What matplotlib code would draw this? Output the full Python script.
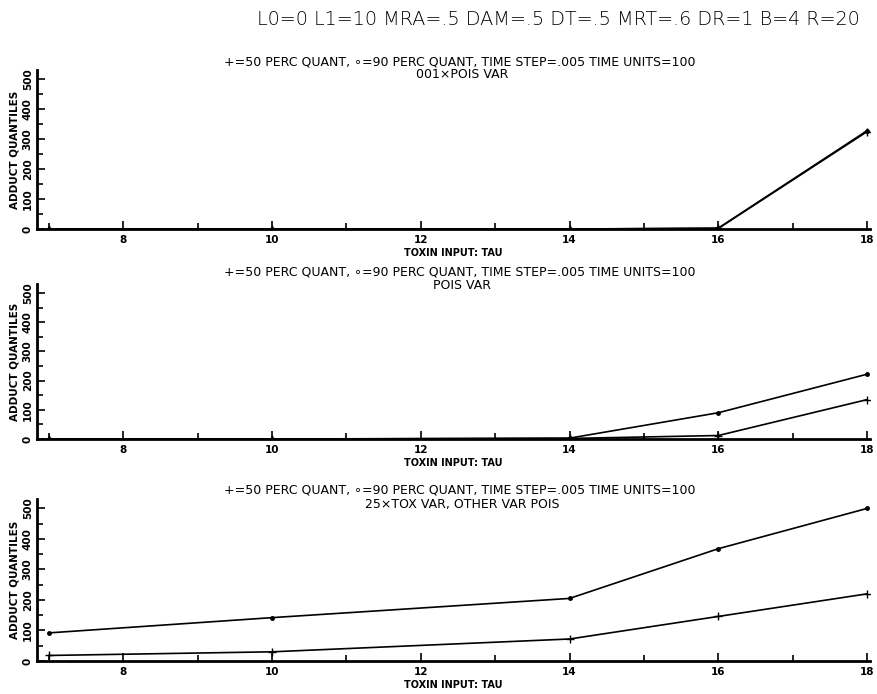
import numpy as np
import matplotlib
matplotlib.use("Agg")
import matplotlib.pyplot as plt
from matplotlib.ticker import MultipleLocator

# toxin input values (tau)
tau = [7, 10, 14, 16, 18]

# panel 1: 001xPOIS VAR
p1_q50 = [0, 0, 0, 2, 325]
p1_q90 = [0, 0, 0, 3, 328]
# panel 2: POIS VAR
p2_q50 = [0, 0, 2, 12, 135]
p2_q90 = [0, 0, 3, 90, 222]
# panel 3: 25xTOX VAR, OTHER VAR POIS
p3_q50 = [18, 30, 72, 146, 220]
p3_q90 = [92, 142, 205, 368, 500]

main_title = "L0=0 L1=10 MRA=.5 DAM=.5 DT=.5 MRT=.6 DR=1 B=4 R=20"
sub_line = "+=50 PERC QUANT, \u2218=90 PERC QUANT, TIME STEP=.005 TIME UNITS=100"
sub_titles = ["001\u00d7POIS VAR", "POIS VAR", "25\u00d7TOX VAR, OTHER VAR POIS"]

fig = plt.figure(figsize=(8.78, 6.94), dpi=100)
fig.text(0.636, 0.972, main_title, ha="center", va="center", fontsize=13.8,
         fontweight="light")

# panel boxes in figure coords [left, bottom, width, height]
boxes = [[0.042, 0.670, 0.949, 0.229],
         [0.042, 0.3674, 0.949, 0.223],
         [0.042, 0.0476, 0.949, 0.233]]
sub_y = [(0.911, 0.892), (0.608, 0.588), (0.294, 0.273)]
data = [(p1_q50, p1_q90), (p2_q50, p2_q90), (p3_q50, p3_q90)]

for i in range(3):
    ax = fig.add_axes(boxes[i])
    q50, q90 = data[i]
    ax.plot(tau, q90, color="black", lw=1.2, marker="o", ms=2.5)
    ax.plot(tau, q50, color="black", lw=1.2, marker="+", ms=6, mew=1.0)
    ax.set_xlim(6.84, 18.04)
    ax.set_ylim(0, 530)
    ax.spines["top"].set_visible(False)
    ax.spines["right"].set_visible(False)
    ax.spines["left"].set_linewidth(2)
    ax.spines["bottom"].set_linewidth(2)
    ax.xaxis.set_major_locator(MultipleLocator(2))
    ax.xaxis.set_minor_locator(MultipleLocator(1))
    ax.yaxis.set_major_locator(MultipleLocator(100))
    ax.yaxis.set_minor_locator(MultipleLocator(50))
    ax.tick_params(axis="both", which="both", direction="in", width=1.2)
    ax.tick_params(axis="both", which="major", length=6, labelsize=7.5)
    ax.tick_params(axis="both", which="minor", length=4)
    ax.tick_params(axis="y", labelrotation=90, pad=3)
    ax.tick_params(axis="x", pad=8)
    for lab in ax.get_xticklabels() + ax.get_yticklabels():
        lab.set_fontweight("bold")
        lab.set_va("center")
    ax.set_xlabel("TOXIN INPUT: TAU", fontsize=7, fontweight="bold", labelpad=2)
    ax.set_ylabel("ADDUCT QUANTILES", fontsize=7.5, fontweight="bold", labelpad=2)
    fig.text(0.524, sub_y[i][0], sub_line, ha="center", va="center", fontsize=9)
    fig.text(0.526, sub_y[i][1], sub_titles[i], ha="center", va="center", fontsize=9)

fig.savefig("out.png", dpi=100)
